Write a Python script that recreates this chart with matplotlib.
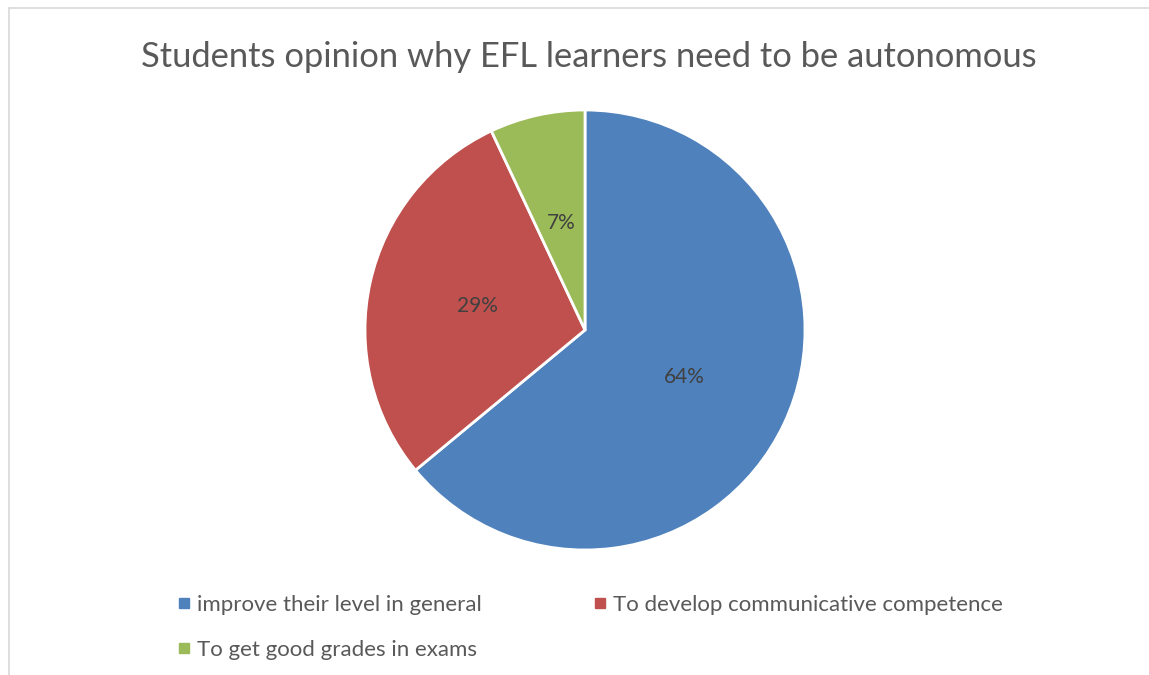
import matplotlib
matplotlib.use("Agg")
import matplotlib.pyplot as plt
from matplotlib.lines import Line2D

plt.rcParams['font.family'] = ['Lato', 'DejaVu Sans']

# survey answers (percent of students)
reasons = ["improve their level in general", "To develop communicative competence", "To get good grades in exams"]
shares = [64, 29, 7]
colors = ["#4F81BD", "#C0504D", "#9BBB59"]
txtcol = "#595959"

W, H = 1149, 675
fig = plt.figure(figsize=(W/100, H/100), dpi=100)

# chart frame (only top/left edges show)
fig.add_artist(Line2D([9/W, 1], [1-8/H, 1-8/H], color="#d9d9d9", lw=1.2, transform=fig.transFigure))
fig.add_artist(Line2D([9/W, 9/W], [0, 1-8/H], color="#d9d9d9", lw=1.2, transform=fig.transFigure))

cx, cy, r = 585, 330, 220
ax = fig.add_axes([(cx-r)/W, (H-cy-r)/H, 2*r/W, 2*r/H])
wedges, texts, autotexts = ax.pie(shares, colors=colors, startangle=90, counterclock=False,
	radius=1, autopct=lambda p: "%d%%" % round(p), pctdistance=0.5,
	wedgeprops=dict(edgecolor="white", linewidth=2, clip_on=False),
	textprops=dict(color="#404040", fontsize=15))
ax.set_xlim(-1, 1)
ax.set_ylim(-1, 1)
ax.axis("off")

fig.text(0.5*(143+1035)/W, 1-57/H, "Students opinion why EFL learners need to be autonomous",
	ha="center", va="center", fontsize=24.8, color=txtcol)

# legend entries placed by hand: (square x, text x, row y) in pixels
spots = [(184, 197, 603), (600, 613, 603), (184, 197, 648)]
for (sx, tx, y), lab, c in zip(spots, reasons, colors):
	fig.add_artist(Line2D([sx/W], [1-y/H], marker="s", ls="none", color=c, markersize=6.5,
		transform=fig.transFigure))
	fig.text(tx/W, 1-y/H, lab, ha="left", va="center_baseline", fontsize=16, color=txtcol)

fig.savefig("out.png", dpi=100, facecolor="white")
